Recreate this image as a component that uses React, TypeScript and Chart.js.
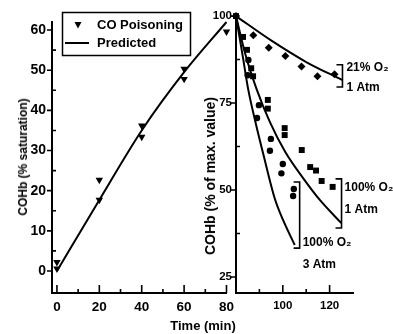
import React, { useEffect, useRef } from "react";
import { Chart, registerables } from "chart.js";

Chart.register(...registerables);

// ---------- Left panel: CO uptake ----------
const CO_TIME = [0, 0, 20, 20, 40, 40, 60, 60, 80];
const CO_COHB = [2.2, 0.6, 22.7, 17.7, 36.2, 33.4, 50.3, 47.8, 59.6];
const PRED_TIME = [0, 20, 40, 60, 80];
const PRED_COHB = [0, 17.7, 35, 49.5, 62];
const LEFT_X_TICKS = [0, 20, 40, 60, 80];
const LEFT_X_MINOR = [10, 30, 50, 70];
const LEFT_Y_TICKS = [0, 10, 20, 30, 40, 50, 60];
const LEFT_Y_MINOR = [5, 15, 25, 35, 45, 55];

// ---------- Right panel: elimination ----------
const AIR_TIME = [80, 87.4, 94, 101.1, 108, 114.8, 122.1];
const AIR_PCT = [100, 94.5, 90.9, 88.5, 85.5, 82.7, 83.3];
const O2_1ATM_TIME = [80, 83, 84.7, 86.5, 87.3, 93.6, 93.6, 100.8, 100.8, 108.1, 111.7, 114.2, 116.6, 121.3];
const O2_1ATM_PCT = [100, 94, 90.3, 85, 82.7, 75.9, 73.4, 67.8, 65.8, 61.5, 56.6, 55.6, 52.6, 50.9];
const O2_3ATM_TIME = [80, 85.3, 85, 89.8, 89, 94.9, 94.5, 100, 99.4, 104.7, 104.4];
const O2_3ATM_PCT = [100, 87.4, 83, 74.4, 70.7, 64.7, 61.3, 57.5, 54.8, 50.3, 48.3];

const AIR_FIT_TIME = [80, 95, 110, 125.5];
const AIR_FIT_PCT = [100, 93, 86.8, 81.6];
const O2_1ATM_FIT_TIME = [80, 84, 88.8, 94.5, 101, 108.6, 116, 125];
const O2_1ATM_FIT_PCT = [100, 89, 79, 69.5, 61, 53.5, 47, 40.5];
const O2_3ATM_FIT_TIME = [80, 83, 85.2, 88.5, 91.6, 96.6, 100.1, 105.1];
const O2_3ATM_FIT_PCT = [100, 88, 79, 69, 60.5, 47.5, 41.4, 34.2];

const RIGHT_X_TICKS = [100, 120];
const RIGHT_X_MINOR = [90, 110];
const RIGHT_Y_TICKS = [25, 50, 75, 100];
const RIGHT_Y_MINOR = [37.5, 62.5, 87.5];

// Bracket annotations (data units)
const BRACKET_X = [125.5, 125.1, 107.2];
const BRACKET_TOP = [86, 53.2, 52.3];
const BRACKET_BOTTOM = [79.6, 39.1, 33.3];
const BRACKET_LABEL1 = ["21% O\u2082", "100% O\u2082", "100% O\u2082"];
const BRACKET_LABEL2 = ["1 Atm", "1 Atm", "3 Atm"];
const LABEL_X = [127.2, 126.4, 108.5];
const LABEL1_Y = [85.3, 50.6, 34.8];
const LABEL2_Y = [79.3, 44.3, 28.4];

const FONT = "'Liberation Sans', Arial, sans-serif";

const pts = (xs: number[], ys: number[]) => xs.map((x, i) => ({ x, y: ys[i] }));

function tickPlugin(
  id: string,
  xMajor: number[],
  xMinor: number[],
  yMajor: number[],
  yMinor: number[]
) {
  return {
    id,
    afterDraw(chart: any) {
      const { ctx, chartArea } = chart;
      const xs = chart.scales.x;
      const ys = chart.scales.y;
      ctx.save();
      ctx.strokeStyle = "#000";
      ctx.lineWidth = 1.6;
      ctx.beginPath();
      xMajor.forEach((v) => {
        const p = xs.getPixelForValue(v);
        ctx.moveTo(p, chartArea.bottom);
        ctx.lineTo(p, chartArea.bottom - 8);
      });
      xMinor.forEach((v) => {
        const p = xs.getPixelForValue(v);
        ctx.moveTo(p, chartArea.bottom);
        ctx.lineTo(p, chartArea.bottom - 4);
      });
      yMajor.forEach((v) => {
        const p = ys.getPixelForValue(v);
        ctx.moveTo(chartArea.left - 5, p);
        ctx.lineTo(chartArea.left, p);
      });
      yMinor.forEach((v) => {
        const p = ys.getPixelForValue(v);
        ctx.moveTo(chartArea.left, p);
        ctx.lineTo(chartArea.left + 4, p);
      });
      ctx.stroke();
      ctx.restore();
    },
  };
}

const legendPlugin = {
  id: "boxLegend",
  afterDraw(chart: any) {
    const { ctx } = chart;
    const ds = chart.data.datasets;
    ctx.save();
    ctx.strokeStyle = "#000";
    ctx.lineWidth = 1.5;
    ctx.strokeRect(62.5, 12.5, 128, 43);
    // triangle marker
    ctx.fillStyle = "#000";
    ctx.beginPath();
    ctx.moveTo(74.5, 22);
    ctx.lineTo(81.5, 22);
    ctx.lineTo(78, 28.5);
    ctx.closePath();
    ctx.fill();
    // line sample
    ctx.lineWidth = 2;
    ctx.beginPath();
    ctx.moveTo(65, 43);
    ctx.lineTo(89, 43);
    ctx.stroke();
    ctx.font = `bold 13px ${FONT}`;
    ctx.textBaseline = "middle";
    ctx.textAlign = "left";
    ctx.fillText(ds[0].label, 97, 25);
    ctx.fillText(ds[1].label, 97, 43);
    ctx.restore();
  },
};

const bracketPlugin = {
  id: "brackets",
  afterDraw(chart: any) {
    const { ctx } = chart;
    const xs = chart.scales.x;
    const ys = chart.scales.y;
    ctx.save();
    ctx.strokeStyle = "#000";
    ctx.fillStyle = "#000";
    ctx.lineWidth = 1.6;
    ctx.font = `bold 12px ${FONT}`;
    ctx.textBaseline = "middle";
    ctx.textAlign = "left";
    BRACKET_X.forEach((bx, i) => {
      const px = xs.getPixelForValue(bx);
      const pt = ys.getPixelForValue(BRACKET_TOP[i]);
      const pb = ys.getPixelForValue(BRACKET_BOTTOM[i]);
      ctx.beginPath();
      ctx.moveTo(px - 6, pt);
      ctx.lineTo(px, pt);
      ctx.lineTo(px, pb);
      ctx.lineTo(px - 6, pb);
      ctx.stroke();
      const lx = xs.getPixelForValue(LABEL_X[i]);
      ctx.fillText(BRACKET_LABEL1[i], lx, ys.getPixelForValue(LABEL1_Y[i]));
      ctx.fillText(BRACKET_LABEL2[i], lx, ys.getPixelForValue(LABEL2_Y[i]));
    });
    ctx.restore();
  },
};

function axisOpts(
  min: number,
  max: number,
  ticks: number[],
  fontSize: number,
  padding: number,
  fit: (s: any) => void
) {
  return {
    type: "linear" as const,
    min,
    max,
    grid: { display: false, drawTicks: false },
    border: { display: true, width: 2, color: "#000" },
    ticks: {
      color: "#000",
      font: { family: FONT, size: fontSize, weight: "bold" as const },
      padding,
      maxRotation: 0,
      autoSkip: false,
    },
    afterBuildTicks: (s: any) => {
      s.ticks = ticks.map((v) => ({ value: v }));
    },
    afterFit: fit,
  };
}

export default function App() {
  const leftRef = useRef<HTMLCanvasElement>(null);
  const rightRef = useRef<HTMLCanvasElement>(null);

  useEffect(() => {
    const left = new Chart(leftRef.current!, {
      type: "line",
      data: {
        datasets: [
          {
            label: "CO Poisoning",
            data: pts(CO_TIME, CO_COHB),
            showLine: false,
            pointStyle: "triangle",
            rotation: 180,
            pointRadius: 4.3,
            pointBorderWidth: 0,
            backgroundColor: "#000",
            borderColor: "#000",
            clip: false,
          } as any,
          {
            label: "Predicted",
            data: pts(PRED_TIME, PRED_COHB),
            borderColor: "#000",
            borderWidth: 2,
            pointRadius: 0,
            cubicInterpolationMode: "monotone",
            clip: false,
          } as any,
        ],
      },
      options: {
        responsive: false,
        animation: false,
        events: [],
        layout: { padding: { left: 0, top: 22, right: 11, bottom: 0 } },
        plugins: { legend: { display: false }, tooltip: { enabled: false } },
        scales: {
          x: axisOpts(-2.33, 80, LEFT_X_TICKS, 13.5, 6, (s) => {
            s.height = 41;
          }),
          y: axisOpts(-5.48, 62, LEFT_Y_TICKS, 14, 6, (s) => {
            s.width = 52;
          }),
        },
      },
      plugins: [
        tickPlugin("leftTicks", LEFT_X_TICKS, LEFT_X_MINOR, LEFT_Y_TICKS, LEFT_Y_MINOR),
        legendPlugin,
      ],
    });

    const right = new Chart(rightRef.current!, {
      type: "line",
      data: {
        datasets: [
          {
            label: "21% O2, 1 Atm",
            data: pts(AIR_TIME, AIR_PCT),
            showLine: false,
            pointStyle: "rectRot",
            pointRadius: 4,
            pointBorderWidth: 0,
            backgroundColor: "#000",
            borderColor: "#000",
            clip: false,
          } as any,
          {
            label: "100% O2, 1 Atm",
            data: pts(O2_1ATM_TIME, O2_1ATM_PCT),
            showLine: false,
            pointStyle: "rect",
            pointRadius: 4.2,
            pointBorderWidth: 0,
            backgroundColor: "#000",
            borderColor: "#000",
            clip: false,
          } as any,
          {
            label: "100% O2, 3 Atm",
            data: pts(O2_3ATM_TIME, O2_3ATM_PCT),
            showLine: false,
            pointStyle: "circle",
            pointRadius: 3.2,
            pointBorderWidth: 0,
            backgroundColor: "#000",
            borderColor: "#000",
            clip: false,
          } as any,
          {
            label: "21% O2 fit",
            data: pts(AIR_FIT_TIME, AIR_FIT_PCT),
            borderColor: "#000",
            borderWidth: 2,
            pointRadius: 0,
            cubicInterpolationMode: "monotone",
            clip: false,
          } as any,
          {
            label: "100% O2 1 Atm fit",
            data: pts(O2_1ATM_FIT_TIME, O2_1ATM_FIT_PCT),
            borderColor: "#000",
            borderWidth: 2,
            pointRadius: 0,
            cubicInterpolationMode: "monotone",
            clip: false,
          } as any,
          {
            label: "100% O2 3 Atm fit",
            data: pts(O2_3ATM_FIT_TIME, O2_3ATM_FIT_PCT),
            borderColor: "#000",
            borderWidth: 2,
            pointRadius: 0,
            cubicInterpolationMode: "monotone",
            clip: false,
          } as any,
        ],
      },
      options: {
        responsive: false,
        animation: false,
        events: [],
        layout: { padding: { left: 0, top: 14, right: 40, bottom: 0 } },
        plugins: { legend: { display: false }, tooltip: { enabled: false } },
        scales: {
          x: axisOpts(80, 130, RIGHT_X_TICKS, 11.5, 6, (s) => {
            s.height = 41;
          }),
          y: axisOpts(20.4, 100.6, RIGHT_Y_TICKS, 11.5, 4, (s) => {
            s.width = 40;
          }),
        },
      },
      plugins: [
        tickPlugin("rightTicks", RIGHT_X_TICKS, RIGHT_X_MINOR, RIGHT_Y_TICKS, RIGHT_Y_MINOR),
        bracketPlugin,
      ],
    });

    return () => {
      left.destroy();
      right.destroy();
    };
  }, []);

  const textBase: React.CSSProperties = {
    position: "absolute",
    fontFamily: FONT,
    fontWeight: "bold",
    color: "#000",
    whiteSpace: "nowrap",
    lineHeight: 1,
  };

  return (
    <div
      style={{
        position: "absolute",
        left: 0,
        top: 0,
        width: 393,
        height: 334,
        background: "#fff",
        overflow: "hidden",
      }}
    >
      <canvas
        ref={leftRef}
        width={240}
        height={334}
        style={{ position: "absolute", left: 0, top: 0 }}
      />
      <canvas
        ref={rightRef}
        width={197}
        height={334}
        style={{ position: "absolute", left: 196, top: 0 }}
      />
      <div
        style={{
          ...textBase,
          fontSize: 12,
          left: 23,
          top: 157,
          transform: "translate(-50%, -50%) rotate(-90deg)",
        }}
      >
        COHb (% saturation)
      </div>
      <div
        style={{
          ...textBase,
          fontSize: 14,
          left: 210,
          top: 176,
          transform: "translate(-50%, -50%) rotate(-90deg)",
        }}
      >
        COHb (% of max. value)
      </div>
      <div
        style={{
          ...textBase,
          fontSize: 13,
          left: 203,
          top: 325,
          transform: "translate(-50%, -50%)",
        }}
      >
        Time (min)
      </div>
    </div>
  );
}
